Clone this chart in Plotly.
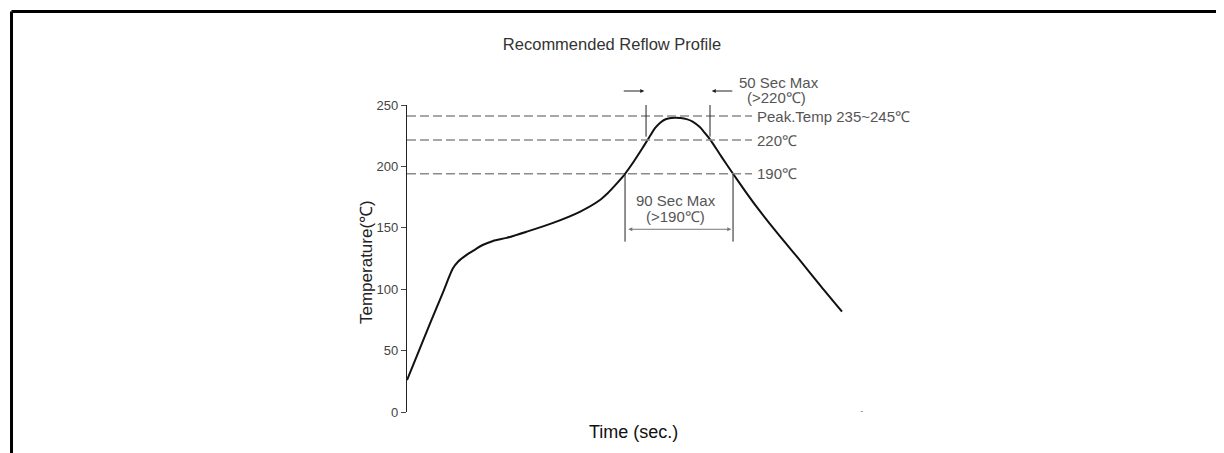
import plotly.graph_objects as go

# Reflow profile curve (time in seconds, temperature in °C)
time_s = [0, 10, 20, 30, 38.3, 42.5, 49.7, 56.7, 63, 71.7, 83, 99.7, 121.7, 144,
          160.8, 167, 174.7, 181.7, 189, 196, 202, 207, 211.5, 216, 222.5, 228, 233, 238, 244,
          248, 252.5, 262, 271.7, 281.5, 291.4, 309, 327.5, 345, 362.5]
temp_c = [26, 50, 74, 97.5, 117, 122.4, 128, 132.3, 136, 139.3, 141.8, 146.8, 154, 163,
          172.6, 178, 186, 194, 204, 214.5, 224, 231.5, 236, 238.6, 239.6, 239.4, 238.5, 236.5, 232,
          227.5, 222, 208, 194, 180.3, 167, 145.2, 123.5, 102.3, 81.7]

# Reference temperature lines
ref_temps = [241, 221.5, 194]
ref_labels = ["Peak.Temp 235~245℃", "220℃", "190℃"]

# Time windows
win50 = [199.2, 252.5]   # > 220 °C
win90 = [181.7, 271.7]   # > 190 °C

y_ticks = [0, 50, 100, 150, 200, 250]

FONT = "Liberation Sans, Arial, sans-serif"
GRAY = "#555555"
YMAX = 250.0

fig = go.Figure()
fig.add_trace(go.Scatter(x=time_s, y=temp_c, mode="lines",
                         line=dict(color="#111111", width=2, shape="spline", smoothing=0.8),
                         cliponaxis=False, hoverinfo="skip", showlegend=False))

shapes = []
annotations = []

# dashed reference lines and labels
for t, lab in zip(ref_temps, ref_labels):
    shapes.append(dict(type="line", xref="x", yref="y", x0=0, x1=287.5, y0=t, y1=t,
                       line=dict(color="#8a8a8a", width=1.5, dash="9px,4px")))
    annotations.append(dict(x=290, y=t, xref="x", yref="y", text=lab, showarrow=False,
                            xanchor="left", yanchor="middle",
                            font=dict(family=FONT, size=15, color=GRAY)))

# 50 sec window verticals
for xv in win50:
    shapes.append(dict(type="line", xref="x", yref="y", x0=xv, x1=xv, y0=224.2, y1=269.8,
                       line=dict(color="#222222", width=1)))
# 90 sec window verticals
for xv in win90:
    shapes.append(dict(type="line", xref="x", yref="y", x0=xv, x1=xv, y0=138.7, y1=ref_temps[2],
                       line=dict(color="#222222", width=1)))

# arrows for 50 sec window
annotations.append(dict(x=win50[0] - 1.5, y=261.4 / YMAX, xref="x", yref="paper",
                        axref="pixel", ayref="pixel", ax=-22, ay=0, text="",
                        showarrow=True, arrowhead=2, arrowsize=0.8, arrowwidth=1,
                        arrowcolor="#222222"))
annotations.append(dict(x=win50[1] + 1.5, y=261.4 / YMAX, xref="x", yref="paper",
                        axref="pixel", ayref="pixel", ax=22, ay=0, text="",
                        showarrow=True, arrowhead=2, arrowsize=0.8, arrowwidth=1,
                        arrowcolor="#222222"))
# double arrow for 90 sec window
annotations.append(dict(x=win90[1] - 1.5, y=148.8, ax=win90[0] + 1.5, ay=148.8,
                        xref="x", yref="y", axref="x", ayref="y", text="",
                        showarrow=True, arrowhead=2, startarrowhead=2, arrowside="end+start",
                        arrowsize=0.8, arrowwidth=1, arrowcolor="#777777"))

annotations += [
    dict(x=275, y=268.5 / YMAX, xref="x", yref="paper", text="50 Sec Max", showarrow=False,
         xanchor="left", yanchor="middle", font=dict(family=FONT, size=15, color=GRAY)),
    dict(x=281.7, y=256.3 / YMAX, xref="x", yref="paper", text="(>220℃)", showarrow=False,
         xanchor="left", yanchor="middle", font=dict(family=FONT, size=15, color=GRAY)),
    dict(x=224, y=172.6, xref="x", yref="y", text="90 Sec Max", showarrow=False,
         xanchor="center", yanchor="middle", font=dict(family=FONT, size=15, color=GRAY)),
    dict(x=224, y=159, xref="x", yref="y", text="(>190℃)", showarrow=False,
         xanchor="center", yanchor="middle", font=dict(family=FONT, size=15, color=GRAY)),
    dict(x=-0.0877, y=0.4886, xref="paper", yref="paper", text="Temperature(℃)",
         showarrow=False, textangle=-90, xanchor="center", yanchor="middle",
         font=dict(family=FONT, size=17, color="#222222")),
    dict(x=0.4978, y=-0.064, xref="paper", yref="paper", text="Time (sec.)",
         showarrow=False, xanchor="center", yanchor="middle",
         font=dict(family=FONT, size=18, color="#111111")),
]

# small end tick on the time axis
shapes.append(dict(type="line", xref="x", yref="y", x0=378, x1=381, y0=0, y1=0,
                   line=dict(color="#444444", width=1)))

# page frame (top and left border)
shapes.append(dict(type="line", xref="paper", yref="paper", x0=-0.8673, x1=1.82,
                   y0=1.3046, y1=1.3046, line=dict(color="black", width=3)))
shapes.append(dict(type="line", xref="paper", yref="paper", x0=-0.8673, x1=-0.8673,
                   y0=1.3046, y1=-0.2, line=dict(color="black", width=3)))

# page body has an 8px offset, so the figure is laid out 8px up/left
OFF = 8
fig.update_layout(
    width=1224, height=453,
    margin=dict(l=407 - OFF, r=1224 - (863 - OFF), t=105 - OFF, b=453 - (412 - OFF)),
    paper_bgcolor="white", plot_bgcolor="white",
    title=dict(text="Recommended Reflow Profile", x=(612 - OFF) / 1224, xanchor="center",
               y=1 - (44 - OFF) / 453, yanchor="middle",
               font=dict(family=FONT, size=16.5, color="#333333")),
    xaxis=dict(range=[0, 380], showline=False, showgrid=False, zeroline=False,
               showticklabels=False, ticks=""),
    yaxis=dict(range=[0, YMAX], tickvals=y_ticks, showline=True, linecolor="#222222",
               linewidth=1.2, showgrid=False, zeroline=False, ticks="outside", ticklen=5,
               tickcolor="#444444", tickfont=dict(family=FONT, size=13, color="#444444"),
               ticklabelstandoff=0),
    shapes=shapes, annotations=annotations, showlegend=False,
)

fig.write_html("out.html")
